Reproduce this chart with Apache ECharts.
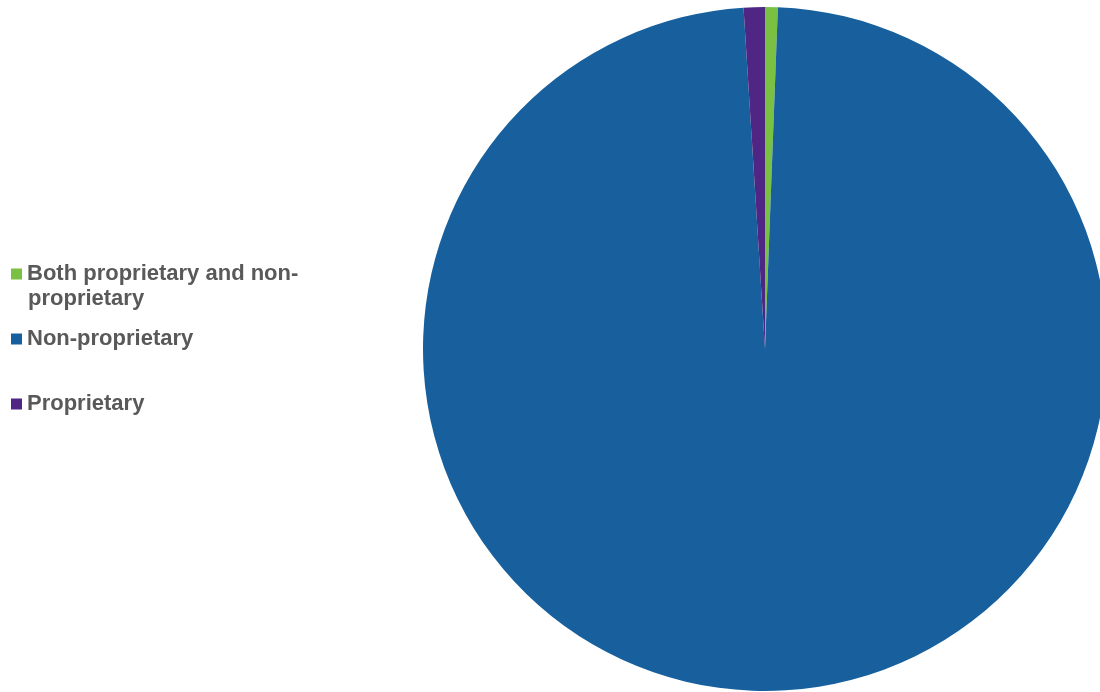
<!DOCTYPE html>
<html><head><meta charset="utf-8">
<script src="https://cdn.jsdelivr.net/npm/echarts@6/dist/echarts.min.js"></script>
<style>html,body{margin:0;padding:0;background:#fff}#c{width:1100px;height:692px}</style>
</head><body><div id="c"></div>
<script>
const categories = ['Both proprietary and non-proprietary', 'Non-proprietary', 'Proprietary'];
const values = [0.6, 98.4, 1.0];
const colors = ['#7AC143', '#17609D', '#4F2683'];
const legendFirstLine = {'Both proprietary and non-proprietary': 'Both proprietary and non-'};
const legendWrapLine = 'proprietary';

const chart = echarts.init(document.getElementById('c'), null, {renderer: 'canvas'});
const legendTop = [261.5, 326.5, 391.5];
const textStyle = {fontFamily: 'Liberation Sans, Arial, sans-serif', fontWeight: 'bold', fontSize: 22, color: '#595959', lineHeight: 25};
chart.setOption({
  animation: false,
  color: colors,
  legend: categories.map((c, i) => ({
    data: [c], left: 11, top: legendTop[i], orient: 'vertical', padding: 0,
    itemWidth: 11, itemHeight: 11, itemGap: 0, icon: 'rect',
    itemStyle: {borderWidth: 0},
    textStyle: textStyle,
    formatter: n => legendFirstLine[n] || n,
    selectedMode: false
  })),
  graphic: [{
    type: 'text', left: 28, top: 286.5,
    style: {text: legendWrapLine, font: 'bold 22px "Liberation Sans", Arial, sans-serif', fill: '#595959', lineHeight: 25}
  }],
  series: [{
    type: 'pie', center: [765, 349], radius: 342, startAngle: 90, clockwise: true,
    label: {show: false}, labelLine: {show: false},
    itemStyle: {borderWidth: 0},
    data: categories.map((c, i) => ({name: c, value: values[i]}))
  }]
});
</script></body></html>
